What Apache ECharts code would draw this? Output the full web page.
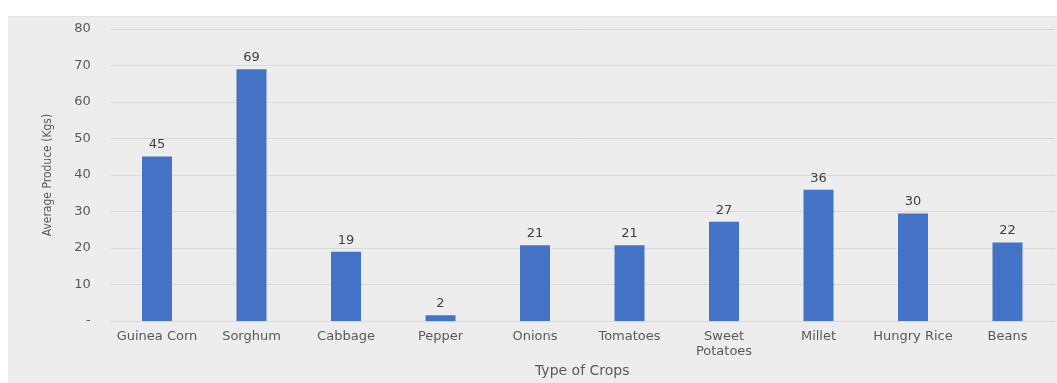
<!DOCTYPE html>
<html>
<head>
<meta charset="utf-8">
<script src="https://cdn.jsdelivr.net/npm/echarts@6/dist/echarts.min.js"></script>
<style>
  html, body { margin: 0; padding: 0; background: #ffffff; }
  #main { position: absolute; left: 8px; top: 16px; width: 1049px; height: 367px; background: #ededed; border-top: 1px solid #e2e2e2; box-sizing: border-box; }
</style>
</head>
<body>
<div id="main"></div>
<script>
var crops = ['Guinea Corn', 'Sorghum', 'Cabbage', 'Pepper', 'Onions', 'Tomatoes', 'Sweet\nPotatoes', 'Millet', 'Hungry Rice', 'Beans'];
var produce = [45.1, 69.0, 19.0, 1.6, 20.8, 20.8, 27.2, 36.0, 29.5, 21.5];
var yTicks = [0, 10, 20, 30, 40, 50, 60, 70, 80];

var myChart = echarts.init(document.getElementById('main'));
var textFont = 'DejaVu Sans';
var option = {
    animation: false,
    grid: {
        left: 101.75,
        right: 2.25,
        top: 12,
        bottom: 58
    },
    xAxis: {
        type: 'category',
        data: crops,
        name: 'Type of Crops',
        nameLocation: 'middle',
        nameGap: 40,
        nameTextStyle: { color: '#595959', fontSize: 14, fontFamily: textFont },
        axisLine: { lineStyle: { color: '#d9d9d9' } },
        axisTick: { show: false },
        axisLabel: {
            color: '#595959',
            fontSize: 13,
            fontFamily: textFont,
            margin: 8,
            lineHeight: 15,
            interval: 0
        }
    },
    yAxis: {
        type: 'value',
        min: yTicks[0],
        max: yTicks[yTicks.length - 1],
        interval: 10,
        name: 'Average Produce (Kgs)',
        nameLocation: 'middle',
        nameGap: 56,
        nameTextStyle: { color: '#595959', fontSize: 12, fontFamily: 'DejaVu Sans Condensed, Liberation Sans' },
        axisLine: { show: false },
        axisTick: { show: false },
        splitLine: { lineStyle: { color: '#d9d9d9', width: 1 } },
        axisLabel: {
            color: '#595959',
            fontSize: 13,
            fontFamily: textFont,
            margin: 19,
            formatter: function (v) { return v === 0 ? '-' : String(v); }
        }
    },
    series: [
        {
            type: 'bar',
            data: produce,
            barWidth: 30,
            itemStyle: { color: '#4472c4' },
            label: {
                show: true,
                position: 'top',
                distance: 5,
                color: '#404040',
                fontSize: 13,
                fontFamily: textFont,
                formatter: function (p) { return Math.round(p.value); }
            }
        }
    ]
};
myChart.setOption(option);
</script>
</body>
</html>
